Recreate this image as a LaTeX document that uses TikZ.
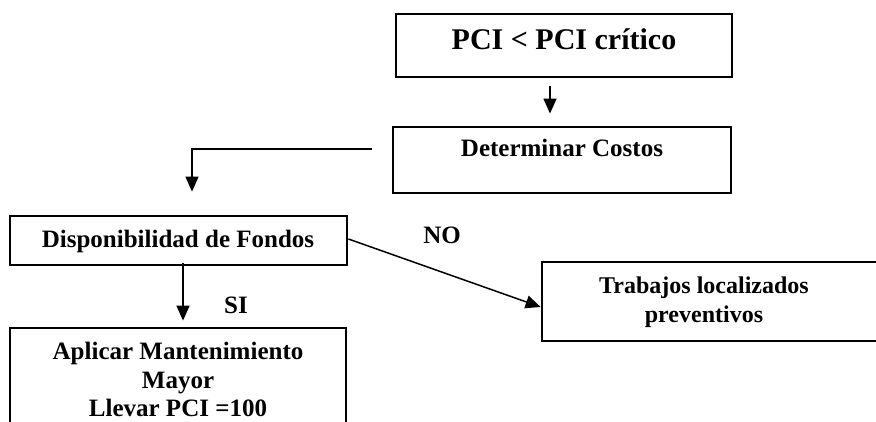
\documentclass[tikz,border=0pt]{standalone}
\usepackage{fontspec}
\setmainfont{Liberation Serif}
\usetikzlibrary{arrows.meta,calc}
\tikzset{
  box/.style={draw, line width=2.8pt, rectangle, inner sep=0pt, anchor=center},
  txt/.style={inner sep=0pt, font=\bfseries\fontsize{25}{29}\selectfont, align=center},
  conn/.style={line width=1.5pt, -{Triangle[length=15pt,width=13pt]}}
}
\begin{document}
\begin{tikzpicture}[x=1pt,y=-1pt]
\useasboundingbox (0,0) rectangle (876,422);
\clip (0,0) rectangle (876,422);
% boxes
\node[box, minimum width=336pt, minimum height=63pt] (b1) at (564,45.5) {};
\node[box, minimum width=338pt, minimum height=66pt] (b2) at (562,160) {};
\node[box, minimum width=337pt, minimum height=49pt] (b3) at (178.5,240.5) {};
\node[box, minimum width=336pt, minimum height=122pt] (b4) at (178,389) {};
\node[box, minimum width=348pt, minimum height=79pt] (b5) at (716,301.5) {};
% texts
\node[txt, font=\bfseries\fontsize{30}{34}\selectfont, anchor=base] (t1) at (564,50) {PCI < PCI crítico};
\node[txt, anchor=base] (t2) at (562,157) {Determinar Costos};
\node[txt, anchor=base] (t3) at (178,248) {Disponibilidad de Fondos};
\node[txt, font=\bfseries\fontsize{25}{28.5}\selectfont, anchor=north] (t4) at (178,342) {Aplicar Mantenimiento\\Mayor\\Llevar PCI =100};
\node[txt, font=\bfseries\fontsize{24}{29}\selectfont, anchor=north] (t5) at (704,277) {Trabajos localizados\\preventivos};
\node[txt, anchor=base] (no) at (442,244) {NO};
\node[txt, anchor=base] (si) at (236,313) {SI};
% connectors
\draw[conn] ($(b1.south)+(-14,8)$) -- ($(b2.north)+(-12,-12)$);
\draw[conn] ($(b2.west)+(-20,-11)$) -| ($(b3.north)+(13.5,-23)$);
\draw[conn] ($(b3.south)+(4.5,-3)$) -- ($(b4.north)+(5,-6)$);
\draw[conn] ($(b3.east)+(0,-1.5)$) -- ($(b5.west)+(0,5.5)$);
\end{tikzpicture}
\end{document}
